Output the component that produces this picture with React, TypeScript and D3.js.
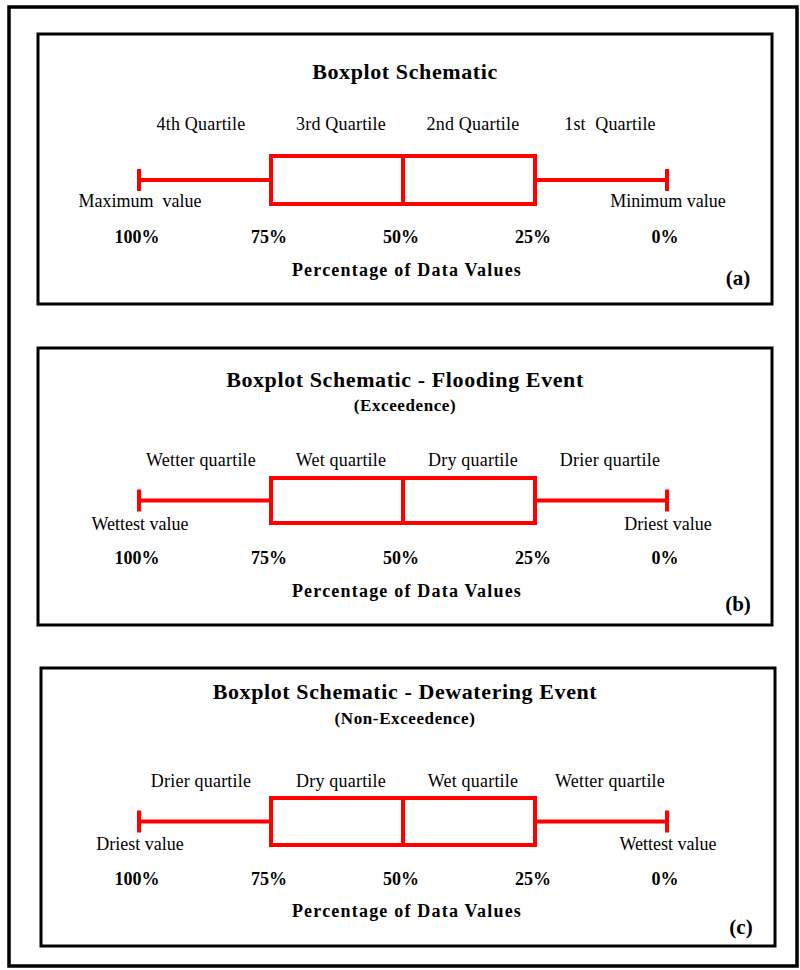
import React from "react";
import * as d3 from "d3";

// Percent-of-data scale shared by the three schematics
const percentTicks = [100, 75, 50, 25, 0];
const tickLabels = ["100%", "75%", "50%", "25%", "0%"];
// Five-number summary expressed as percentage positions: min, q1, median, q3, max
const fiveNumber = [0, 25, 50, 75, 100];
// Quartile bands (upper, lower) used to centre the band names
const quartileBands = [
  [100, 75],
  [75, 50],
  [50, 25],
  [25, 0],
];

const panelTitles = [
  "Boxplot Schematic",
  "Boxplot Schematic - Flooding Event",
  "Boxplot Schematic - Dewatering Event",
];
const panelSubtitles = ["", "(Exceedence)", "(Non-Exceedence)"];
const panelTags = ["(a)", "(b)", "(c)"];
const quartileNamesA = ["4th Quartile", "3rd Quartile", "2nd Quartile", "1st  Quartile"];
const quartileNamesB = ["Wetter quartile", "Wet quartile", "Dry quartile", "Drier quartile"];
const quartileNamesC = ["Drier quartile", "Dry quartile", "Wet quartile", "Wetter quartile"];
const endLabelsA = ["Maximum  value", "Minimum value"];
const endLabelsB = ["Wettest value", "Driest value"];
const endLabelsC = ["Driest value", "Wettest value"];
const axisTitle = "Percentage of Data Values";

const quartileNames = [quartileNamesA, quartileNamesB, quartileNamesC];
const endLabels = [endLabelsA, endLabelsB, endLabelsC];

// Layout of each framed panel (page pixels)
const layout = [
  { x: 38, y: 34, w: 734, h: 270, title: 79, sub: 0, qn: 130, boxTop: 156, boxBot: 204, ends: 207, ticks: 243, axis: 276, tag: 285 },
  { x: 38, y: 348, w: 734, h: 277, title: 387, sub: 411, qn: 466, boxTop: 478, boxBot: 523, ends: 530, ticks: 564, axis: 597, tag: 611 },
  { x: 41, y: 668, w: 734, h: 278, title: 699, sub: 724, qn: 787, boxTop: 798, boxBot: 845, ends: 850, ticks: 885, axis: 917, tag: 934 },
];
// Horizontal nudges of the band names away from the band centres
const bandNudge = [-4, 4, 4, 9];

const W = 800;
const H = 970;
const RED = "#ff0000";
const SERIF = "'Liberation Serif', 'Times New Roman', serif";

const x = d3.scaleLinear().domain([100, 0]).range([139, 667]);

function Panel({ i }: { i: number }) {
  const L = layout[i];
  const [mn, q1, med, q3, mx] = fiveNumber;
  const mid = (L.boxTop + L.boxBot) / 2;
  const capHalf = 11;
  return (
    <g>
      <rect x={L.x} y={L.y} width={L.w} height={L.h} fill="#fff" stroke="#000" strokeWidth={3} />
      <text x={405} y={L.title} textAnchor="middle" fontFamily={SERIF} fontWeight="bold" fontSize={22} letterSpacing={0.6}>
        {panelTitles[i]}
      </text>
      {panelSubtitles[i] && (
        <text x={405} y={L.sub} textAnchor="middle" fontFamily={SERIF} fontWeight="bold" fontSize={17} letterSpacing={0.6}>
          {panelSubtitles[i]}
        </text>
      )}
      {quartileBands.map((b, k) => (
        <text
          key={k}
          x={x((b[0] + b[1]) / 2) + bandNudge[k]}
          y={L.qn}
          textAnchor="middle"
          fontFamily={SERIF}
          fontSize={18}
          letterSpacing={0.2}
          style={{ whiteSpace: "pre" }}
        >
          {quartileNames[i][k]}
        </text>
      ))}
      {/* whiskers */}
      <line x1={x(mx)} x2={x(q3)} y1={mid} y2={mid} stroke={RED} strokeWidth={4} />
      <line x1={x(q1)} x2={x(mn)} y1={mid} y2={mid} stroke={RED} strokeWidth={4} />
      <line x1={x(mx)} x2={x(mx)} y1={mid - capHalf} y2={mid + capHalf} stroke={RED} strokeWidth={4} />
      <line x1={x(mn)} x2={x(mn)} y1={mid - capHalf} y2={mid + capHalf} stroke={RED} strokeWidth={4} />
      {/* box and median */}
      <rect
        x={x(q3)}
        y={L.boxTop}
        width={x(q1) - x(q3)}
        height={L.boxBot - L.boxTop}
        fill="none"
        stroke={RED}
        strokeWidth={4}
      />
      <line x1={x(med)} x2={x(med)} y1={L.boxTop} y2={L.boxBot} stroke={RED} strokeWidth={4} />
      {/* extreme value labels */}
      <text x={x(mx) + 1} y={L.ends} textAnchor="middle" fontFamily={SERIF} fontSize={18} style={{ whiteSpace: "pre" }}>
        {endLabels[i][0]}
      </text>
      <text x={x(mn) + 1} y={L.ends} textAnchor="middle" fontFamily={SERIF} fontSize={18}>
        {endLabels[i][1]}
      </text>
      {/* percentage ticks */}
      {percentTicks.map((p, k) => (
        <text key={p} x={x(p) - 2} y={L.ticks} textAnchor="middle" fontFamily={SERIF} fontWeight="bold" fontSize={18}>
          {tickLabels[k]}
        </text>
      ))}
      <text x={407} y={L.axis} textAnchor="middle" fontFamily={SERIF} fontWeight="bold" fontSize={18} letterSpacing={1.2}>
        {axisTitle}
      </text>
      <text x={L.x + L.w - 34} y={L.tag} textAnchor="middle" fontFamily={SERIF} fontWeight="bold" fontSize={21}>
        {panelTags[i]}
      </text>
    </g>
  );
}

export default function App() {
  return (
    <svg
      width={W}
      height={H}
      viewBox={`0 0 ${W} ${H}`}
      style={{ position: "absolute", left: 0, top: 0, background: "#fff" }}
    >
      <rect x={0} y={0} width={W} height={H} fill="#fff" />
      <rect x={9} y={7} width={788} height={959} fill="none" stroke="#000" strokeWidth={3.5} />
      {layout.map((_, i) => (
        <Panel key={i} i={i} />
      ))}
    </svg>
  );
}
